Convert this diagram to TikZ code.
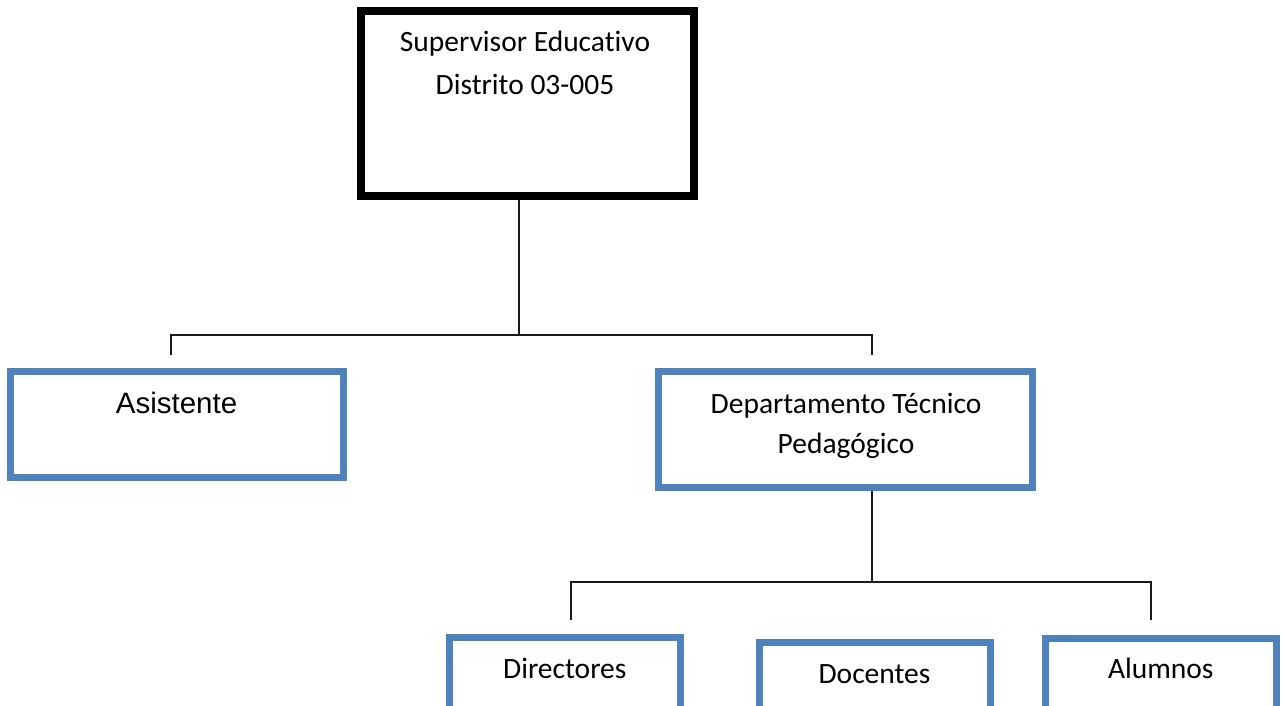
\documentclass[tikz,border=0pt]{standalone}
\usepackage{fontspec}
\setmainfont[Ligatures=NoCommon]{Carlito}
\newfontfamily\arialfont{Liberation Sans}
\usetikzlibrary{positioning}
\definecolor{boxblue}{RGB}{79,129,189}

\begin{document}
\begin{tikzpicture}[x=1pt, y=-1pt,
    supbox/.style={draw=black, line width=8pt, inner sep=0pt,
        minimum width=333pt, minimum height=185pt},
    areabox/.style={draw=boxblue, line width=7pt, inner sep=0pt},
    boxtext/.style={font=\fontsize{29.5}{43}\selectfont, align=center,
        anchor=base, inner sep=0pt},
    conn/.style={line width=1.8pt, black!90}]

    % page frame
    \useasboundingbox (0,0) rectangle (1282,706);
    \clip (0,0) rectangle (1282,706);

    % boxes
    \node[supbox] (sup) at (527.5,103.5) {};
    \node[areabox, minimum width=333pt, minimum height=106pt] (asis) at (176.5,424.5) {};
    \node[areabox, minimum width=374pt, minimum height=116pt] (dept) at (845.5,429.5) {};
    \node[areabox, minimum width=230.5pt, minimum height=120pt] (dir) at (564.75,697) {};
    \node[areabox, minimum width=231pt, minimum height=120pt] (doc) at (874.5,702) {};
    \node[areabox, minimum width=231.5pt, minimum height=120pt] (alu) at (1160.75,698.5) {};

    % texts (base = last line)
    \node[boxtext] (supT) at (525,95) {Supervisor Educativo\\Distrito 03-005};
    \node[boxtext, font=\arialfont\fontsize{29.5}{35}\selectfont] (asisT) at (176.5,413) {Asistente};
    \node[boxtext, font=\fontsize{29.5}{40}\selectfont] (deptT) at (846,453.3) {Departamento Técnico\\Pedagógico};
    \node[boxtext] (dirT) at (564.75,678) {Directores};
    \node[boxtext] (docT) at (874.5,683) {Docentes};
    \node[boxtext] (aluT) at (1160.75,678) {Alumnos};

    % connectors
    \coordinate (junA) at (519,335);
    \coordinate (asisDrop) at (171,355);
    \coordinate (deptDrop) at (872,355);
    \draw[conn] (sup.south -| junA) -- (junA);
    \draw[conn] (asisDrop) |- (junA) -| (deptDrop);

    \coordinate (junB) at (872,582);
    \coordinate (dirDrop) at (571,620);
    \coordinate (aluDrop) at (1151,620);
    \draw[conn] (dept.south -| junB) -- (junB);
    \draw[conn] (dirDrop) |- (junB) -| (aluDrop);

\end{tikzpicture}
\end{document}
